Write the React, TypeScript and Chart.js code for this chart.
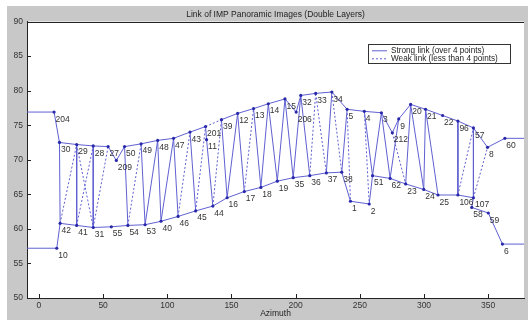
import { useEffect, useRef } from "react";
import { Chart, registerables } from "chart.js";

Chart.register(...registerables);

const titleText = "Link of IMP Panoramic Images (Double Layers)";
const xAxisTitle = "Azimuth";
const xTicks = [0, 50, 100, 150, 200, 250, 300, 350];
const yTicks = [50, 55, 60, 65, 70, 75, 80, 85, 90];
const xMin = -9.3;
const xMax = 377.9;
const yMin = 50;
const yMax = 90;

// upper layer images
const upperIds = ["204", "30", "29", "28", "27", "209", "50", "49", "48", "47", "43", "201", "11", "39", "12", "13", "14", "15", "206", "32", "33", "34", "5", "4", "3", "212", "9", "20", "21", "22", "96", "57", "8", "60"];
const upperX = [11.8, 16.0, 29.4, 42.3, 53.9, 60.3, 66.7, 79.6, 92.5, 104.9, 117.7, 129.8, 130.6, 142.2, 154.8, 167.2, 178.7, 191.7, 200.4, 204.0, 215.6, 228.2, 240.1, 253.5, 266.8, 275.3, 280.3, 289.6, 301.2, 314.5, 326.4, 338.5, 349.5, 363.0];
const upperY = [76.9, 72.5, 72.2, 72.0, 71.9, 69.9, 71.9, 72.3, 72.8, 73.1, 74.0, 74.8, 72.9, 75.8, 76.7, 77.4, 78.1, 78.8, 76.9, 79.3, 79.6, 79.8, 77.3, 77.0, 76.8, 73.9, 75.9, 78.0, 77.3, 76.4, 75.6, 74.6, 71.8, 73.1];

// lower layer images
const lowerIds = ["10", "42", "41", "31", "55", "54", "53", "40", "46", "45", "44", "16", "17", "18", "19", "35", "36", "37", "38", "1", "2", "51", "62", "23", "24", "25", "106", "107", "58", "59", "6"];
const lowerX = [13.9, 16.5, 29.4, 42.3, 56.4, 69.3, 82.7, 95.1, 108.4, 122.1, 135.5, 146.6, 160.0, 172.9, 185.7, 198.1, 211.0, 223.9, 235.9, 242.7, 257.3, 259.9, 273.6, 285.7, 299.8, 310.9, 326.4, 338.5, 337.2, 350.1, 361.1];
const lowerY = [57.2, 60.8, 60.5, 60.2, 60.3, 60.5, 60.6, 61.1, 61.8, 62.6, 63.3, 64.5, 65.4, 66.0, 66.9, 67.4, 67.7, 68.1, 68.2, 64.0, 63.6, 67.7, 67.3, 66.5, 65.7, 64.9, 64.9, 64.5, 63.1, 62.3, 57.8];

// chains along each layer
const upperChainA = ["204", "30", "29", "28", "27", "209", "50", "49", "48", "47", "43", "201"];
const upperChainB = ["39", "12", "13", "14", "15", "206", "32", "33", "34", "5", "4", "3", "212", "9", "20", "21", "22", "96", "57", "8", "60"];
const lowerChain = ["10", "42", "41", "31", "55", "54", "53", "40", "46", "45", "44", "16", "17", "18", "19", "35", "36", "37", "38", "1", "2", "51", "62", "23", "24", "25", "106", "107", "58", "59", "6"];

const strongLinks = [
  ["30", "42"], ["29", "41"], ["28", "31"], ["50", "54"], ["49", "53"], ["48", "53"], ["48", "40"],
  ["47", "40"], ["47", "46"], ["43", "45"], ["201", "11"], ["11", "44"], ["39", "16"], ["12", "16"],
  ["12", "17"], ["13", "18"], ["14", "18"], ["14", "19"], ["15", "19"], ["15", "35"], ["32", "35"],
  ["32", "36"], ["34", "37"], ["5", "38"], ["4", "51"], ["3", "51"], ["3", "62"], ["9", "62"],
  ["20", "23"], ["20", "24"], ["21", "24"], ["21", "25"], ["96", "106"], ["57", "107"],
];
const weakLinks = [
  ["42", "29"], ["29", "31"], ["41", "28"], ["31", "27"], ["54", "49"], ["46", "43"], ["45", "201"],
  ["44", "39"], ["201", "39"], ["17", "13"], ["36", "33"], ["33", "37"], ["34", "38"], ["5", "1"],
  ["4", "2"], ["212", "23"], ["106", "57"], ["107", "8"],
];

const legendLabels = ["Strong link (over 4 points)", "Weak link (less than 4 points)"];

const FONT = "'Liberation Sans', Arial, Helvetica, sans-serif";
const LINE = "rgb(96,96,210)";
const DOT = "rgb(40,40,170)";

function pos(id: string) {
  let i = upperIds.indexOf(id);
  if (i >= 0) return { x: upperX[i], y: upperY[i] };
  i = lowerIds.indexOf(id);
  return { x: lowerX[i], y: lowerY[i] };
}

const overlay = {
  id: "overlay",
  beforeDraw(chart: any) {
    const { ctx, width, height, chartArea: a } = chart;
    ctx.save();
    ctx.fillStyle = "#ffffff";
    ctx.fillRect(0, 0, width, height);
    ctx.fillStyle = "#c8c8c8";
    ctx.fillRect(7, 6, width - 7, height - 6);
    ctx.fillStyle = "#ffffff";
    ctx.fillRect(a.left, a.top, a.right - a.left, a.bottom - a.top);
    ctx.restore();
  },
  afterDatasetsDraw(chart: any) {
    const { ctx } = chart;
    const xs = chart.scales.x;
    const ys = chart.scales.y;
    ctx.save();
    ctx.font = `8.5px ${FONT}`;
    ctx.fillStyle = "#333";
    ctx.textBaseline = "top";
    ctx.textAlign = "left";
    const all = [
      ...upperIds.map((id, i) => [id, upperX[i], upperY[i]] as [string, number, number]),
      ...lowerIds.map((id, i) => [id, lowerX[i], lowerY[i]] as [string, number, number]),
    ];
    for (const [id, x, y] of all) {
      ctx.fillText(id, xs.getPixelForValue(x) + 1.5, ys.getPixelForValue(y) + 3);
    }
    ctx.restore();
  },
  afterDraw(chart: any) {
    const { ctx, chartArea: a } = chart;
    const xs = chart.scales.x;
    const ys = chart.scales.y;
    ctx.save();
    ctx.strokeStyle = "#222";
    ctx.lineWidth = 1;
    ctx.beginPath();
    ctx.moveTo(a.left, Math.round(a.top) + 0.5);
    ctx.lineTo(a.right, Math.round(a.top) + 0.5);
    for (const v of xTicks) {
      const px = Math.round(xs.getPixelForValue(v)) + 0.5;
      ctx.moveTo(px, a.bottom);
      ctx.lineTo(px, a.bottom - 4);
    }
    for (const v of yTicks) {
      const py = Math.round(ys.getPixelForValue(v)) + 0.5;
      ctx.moveTo(a.left, py);
      ctx.lineTo(a.left + 4, py);
    }
    ctx.stroke();

    // legend box
    const bx = 368.5, by = 44.5, bw = 142, bh = 19;
    ctx.fillStyle = "#fff";
    ctx.fillRect(bx, by, bw, bh);
    ctx.strokeStyle = "#333";
    ctx.strokeRect(bx, by, bw, bh);
    const rows = [50.3, 58.3];
    ctx.strokeStyle = LINE;
    ctx.beginPath();
    ctx.moveTo(372, rows[0] + 0.5);
    ctx.lineTo(387, rows[0] + 0.5);
    ctx.stroke();
    ctx.setLineDash([2, 2]);
    ctx.beginPath();
    ctx.moveTo(372, rows[1] + 0.5);
    ctx.lineTo(387, rows[1] + 0.5);
    ctx.stroke();
    ctx.setLineDash([]);
    ctx.font = `8.2px ${FONT}`;
    ctx.fillStyle = "#222";
    ctx.textBaseline = "middle";
    ctx.textAlign = "left";
    legendLabels.forEach((t, i) => ctx.fillText(t, 391, rows[i]));
    ctx.restore();
  },
};

export default function App() {
  const ref = useRef<HTMLCanvasElement | null>(null);
  useEffect(() => {
    document.body.style.margin = "0";
    const canvas = ref.current;
    if (!canvas) return;

    const chainData = (ids: string[], extendLeft: boolean, extendRight: boolean) => {
      const pts = ids.map(pos);
      if (extendLeft) pts.unshift({ x: xMin - 5, y: pts[0].y });
      if (extendRight) pts.push({ x: xMax + 5, y: pts[pts.length - 1].y });
      return pts;
    };

    const datasets: any[] = [];
    datasets.push({
      label: "nodes",
      data: [...upperIds.map(pos), ...lowerIds.map(pos)],
      showLine: false,
      pointRadius: 1.6,
      pointBackgroundColor: DOT,
      pointBorderWidth: 0,
      pointStyle: "circle",
    });
    const lineBase = { showLine: true, pointRadius: 0, borderWidth: 1, borderColor: LINE, tension: 0 };
    datasets.push({ label: "upperA", data: chainData(upperChainA, true, false), ...lineBase });
    datasets.push({ label: "upperB", data: chainData(upperChainB, false, true), ...lineBase });
    datasets.push({ label: "lower", data: chainData(lowerChain, true, true), ...lineBase });
    strongLinks.forEach(([a, b]) => datasets.push({ label: "s", data: [pos(a), pos(b)], ...lineBase }));
    weakLinks.forEach(([a, b]) =>
      datasets.push({ label: "w", data: [pos(a), pos(b)], ...lineBase, borderDash: [2, 2] })
    );

    const tickFont = { family: FONT, size: 8.5 };
    const chart = new Chart(canvas, {
      type: "scatter",
      data: { datasets },
      plugins: [overlay],
      options: {
        responsive: false,
        animation: false,
        events: [],
        layout: { padding: 0 },
        plugins: {
          legend: { display: false },
          tooltip: { enabled: false },
          title: {
            display: true,
            text: titleText,
            fullSize: false,
            color: "#222",
            font: { family: FONT, size: 8.5, weight: "normal" },
            padding: { top: 10, bottom: 1.3 },
          },
        },
        scales: {
          x: {
            type: "linear",
            min: xMin,
            max: xMax,
            afterBuildTicks: (s: any) => {
              s.ticks = xTicks.map((v) => ({ value: v }));
            },
            afterFit: (s: any) => {
              s.height = 22;
            },
            ticks: { font: tickFont, color: "#333", padding: 3, autoSkip: false, maxRotation: 0 },
            grid: { display: false, drawTicks: false },
            border: { display: true, color: "#222", width: 1 },
            title: {
              display: true,
              text: xAxisTitle,
              color: "#222",
              font: tickFont,
              padding: { top: 0, bottom: 1 },
            },
          },
          y: {
            type: "linear",
            min: yMin,
            max: yMax,
            afterBuildTicks: (s: any) => {
              s.ticks = yTicks.map((v) => ({ value: v }));
            },
            afterFit: (s: any) => {
              s.width = 27;
            },
            ticks: { font: tickFont, color: "#333", padding: 4, autoSkip: false },
            grid: { display: false, drawTicks: false },
            border: { display: true, color: "#222", width: 1 },
          },
        },
      } as any,
    });
    return () => chart.destroy();
  }, []);

  return <canvas ref={ref} width={528} height={320} style={{ display: "block" }} />;
}
